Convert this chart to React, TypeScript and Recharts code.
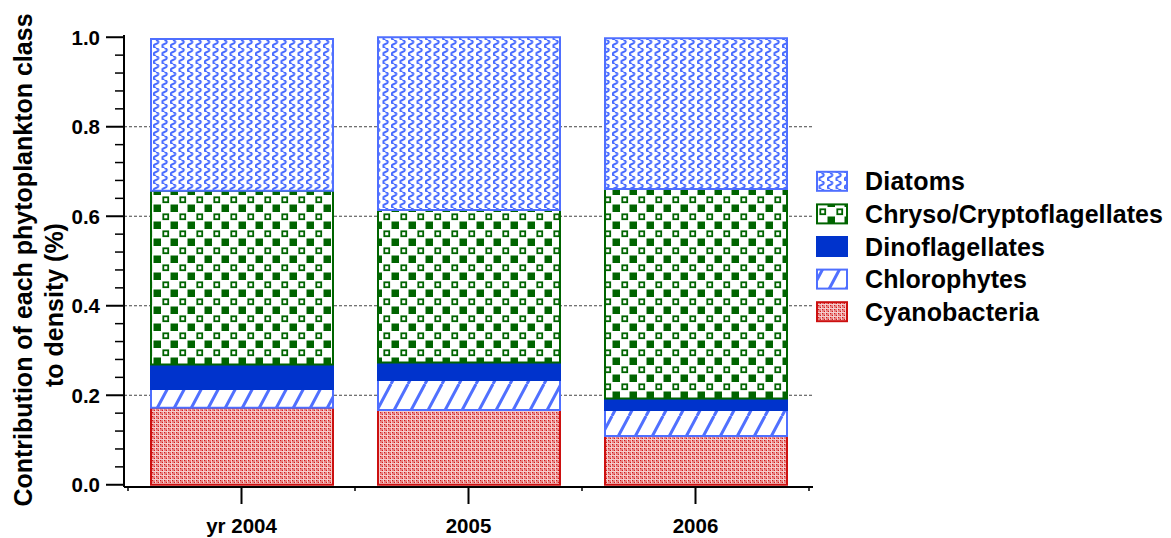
import React from "react"
import { BarChart, Bar, XAxis, YAxis, CartesianGrid, Legend } from "recharts"

// share of each phytoplankton class in total density, per year
const YEARS = ["yr 2004", "2005", "2006"]
const CYANOBACTERIA = [0.172, 0.167, 0.109]
const CHLOROPHYTES = [0.042, 0.067, 0.058]
const DINOFLAGELLATES = [0.055, 0.039, 0.026]
const CHRYSO_CRYPTO = [0.388, 0.341, 0.468]
const DIATOMS = [0.339, 0.386, 0.337]

const GRID_VALUES = [0.2, 0.4, 0.6, 0.8]
// labelled every 0.2, with four minor ticks in between
const Y_TICKS = Array.from({ length: 26 }, (_, i) => (i * 4) / 100)

const FONT = "'Liberation Sans', Arial, Helvetica, sans-serif"

const WIDTH = 1171
const HEIGHT = 538
const PLOT_LEFT = 124
const PLOT_RIGHT = 813
const X_PAD = 4
const BAND_HALF = (PLOT_RIGHT - PLOT_LEFT - 2 * X_PAD) / YEARS.length / 2

interface Series {
  key: string
  name: string
  fill: string
  stroke: string
  values: number[]
  labelWidth: number
}

// stacked from bottom to top
const SERIES: Series[] = [
  { key: "cyano", name: "Cyanobacteria", fill: "url(#pat-cyano)", stroke: "#cc1010", values: CYANOBACTERIA, labelWidth: 174 },
  { key: "chloro", name: "Chlorophytes", fill: "url(#pat-chloro)", stroke: "#4f6fff", values: CHLOROPHYTES, labelWidth: 162 },
  { key: "dino", name: "Dinoflagellates", fill: "#0033cc", stroke: "#0033cc", values: DINOFLAGELLATES, labelWidth: 180 },
  { key: "chryso", name: "Chryso/Cryptoflagellates", fill: "url(#pat-chryso)", stroke: "#006400", values: CHRYSO_CRYPTO, labelWidth: 298 },
  { key: "diatoms", name: "Diatoms", fill: "url(#pat-diatoms)", stroke: "#4f6fff", values: DIATOMS, labelWidth: 100 },
]

const rows = YEARS.map((year, i) => {
  const row: Record<string, string | number> = { year }
  SERIES.forEach((s) => {
    row[s.key] = s.values[i]
  })
  return row
})

function Patterns() {
  return (
    <svg width={0} height={0} style={{ position: "absolute" }}>
      <defs>
        <pattern id="pat-diatoms" patternUnits="userSpaceOnUse" width={8.5} height={8}>
          <rect width={8.5} height={8} fill="#fff" />
          <path d="M3,0 C6.2,1 6.2,3 3,4 C-0.2,5 -0.2,7 3,8" fill="none" stroke="#4468ff" strokeWidth={1.9} />
        </pattern>
        <pattern id="pat-chloro" patternUnits="userSpaceOnUse" width={17} height={32}>
          <rect width={17} height={32} fill="#fff" />
          <path d="M-17,32 L0,0 M0,32 L17,0 M17,32 L34,0" stroke="#5070ff" strokeWidth={3} />
        </pattern>
        <pattern id="pat-chryso" patternUnits="userSpaceOnUse" width={17} height={17}>
          <rect width={17} height={17} fill="#fff" />
          <rect x={0.5} y={0.5} width={7.5} height={7.5} fill="#006400" />
          <rect x={10.3} y={10.3} width={4.9} height={4.9} fill="none" stroke="#006400" strokeWidth={1.8} />
        </pattern>
        <pattern id="pat-cyano" patternUnits="userSpaceOnUse" width={4} height={4}>
          <rect width={4} height={4} fill="#e68080" />
          <rect x={0} y={0} width={1} height={1} fill="#d41818" />
          <rect x={2} y={2} width={1} height={1} fill="#d41818" />
          <path d="M3.5,0 V4 M0,3.5 H4" stroke="#f6cccc" strokeWidth={1} />
        </pattern>
      </defs>
    </svg>
  )
}

function YTick(props: any) {
  const { x, y, payload } = props
  const v = payload.value as number
  const major = Math.abs(v * 5 - Math.round(v * 5)) < 1e-6
  return (
    <g>
      <line x1={x - (major ? 18 : 9)} x2={x} y1={y} y2={y} stroke="#000" strokeWidth={major ? 2 : 1.5} />
      {major && (
        <text
          x={x - 24}
          y={y}
          textAnchor="end"
          dominantBaseline="central"
          fontFamily={FONT}
          fontWeight={700}
          fontSize={20.5}
          fill="#000"
        >
          {v.toFixed(1)}
        </text>
      )}
    </g>
  )
}

function XTick(props: any) {
  const { x, y, payload, index } = props
  return (
    <g>
      <line x1={x} x2={x} y1={y} y2={y + 17} stroke="#000" strokeWidth={2} />
      <line x1={x - BAND_HALF} x2={x - BAND_HALF} y1={y} y2={y + 4} stroke="#000" strokeWidth={1.5} />
      {index === YEARS.length - 1 && (
        <line x1={x + BAND_HALF} x2={x + BAND_HALF} y1={y} y2={y + 4} stroke="#000" strokeWidth={1.5} />
      )}
      <text x={x} y={y + 46} textAnchor="middle" fontFamily={FONT} fontWeight={700} fontSize={20.5} fill="#000">
        {payload.value}
      </text>
    </g>
  )
}

function YTitle() {
  return (
    <g fontFamily={FONT} fontWeight={700} fontSize={25} fill="#000">
      <text transform="translate(23,260) rotate(-90)" textAnchor="middle" dominantBaseline="central">
        Contribution of each phytoplankton class
      </text>
      <text transform="translate(54,305) rotate(-90)" textAnchor="middle" dominantBaseline="central">
        to density (%)
      </text>
    </g>
  )
}

const ROW_H = 32.6

function LegendBox() {
  const items = [...SERIES].reverse()
  return (
    <svg width={360} height={items.length * ROW_H}>
      {items.map((s, i) => {
        const cy = i * ROW_H + ROW_H / 2
        return (
          <g key={s.key}>
            <rect x={7} y={cy - 9.5} width={30} height={19} fill={s.fill} stroke={s.stroke} strokeWidth={2} />
            <text
              x={55}
              y={cy}
              dominantBaseline="central"
              fontFamily={FONT}
              fontWeight={700}
              fontSize={25}
              fill="#000"
              textLength={s.labelWidth}
            >
              {s.name}
            </text>
          </g>
        )
      })}
    </svg>
  )
}

export default function App() {
  return (
    <div style={{ position: "absolute", left: 0, top: 0, width: WIDTH, height: HEIGHT, background: "#fff" }}>
      <Patterns />
      <BarChart
        width={WIDTH}
        height={HEIGHT}
        data={rows}
        margin={{ top: 35, right: WIDTH - PLOT_RIGHT, bottom: 0, left: 0 }}
      >
        <CartesianGrid
          vertical={false}
          horizontalValues={GRID_VALUES}
          stroke="#444"
          strokeDasharray="3 2"
          strokeWidth={1}
        />
        <XAxis
          dataKey="year"
          height={51}
          padding={{ left: X_PAD, right: X_PAD }}
          axisLine={{ stroke: "#000", strokeWidth: 2 }}
          tickLine={false}
          tickSize={0}
          tickMargin={0}
          tick={<XTick />}
          interval={0}
        />
        <XAxis
          xAxisId="top"
          dataKey="year"
          orientation="top"
          height={0}
          padding={{ left: X_PAD, right: X_PAD }}
          axisLine={{ stroke: "#000", strokeWidth: 2 }}
          tickLine={false}
          tick={false}
        />
        <YAxis
          width={PLOT_LEFT}
          domain={[-0.005, 1.005]}
          ticks={Y_TICKS}
          interval={0}
          axisLine={{ stroke: "#000", strokeWidth: 2 }}
          tickLine={false}
          tickSize={0}
          tickMargin={0}
          tick={<YTick />}
          label={{ content: () => <YTitle /> }}
        />
        <YAxis
          yAxisId="right"
          orientation="right"
          width={0}
          domain={[-0.005, 1.005]}
          axisLine={{ stroke: "#000", strokeWidth: 2 }}
          tickLine={false}
          tick={false}
        />
        <Legend
          layout="vertical"
          align="center"
          verticalAlign="middle"
          wrapperStyle={{ left: 810, top: 165, width: 360 }}
          content={() => <LegendBox />}
        />
        {SERIES.map((s) => (
          <Bar
            key={s.key}
            dataKey={s.key}
            name={s.name}
            stackId="share"
            barSize={182}
            fill={s.fill}
            stroke={s.stroke}
            strokeWidth={2}
            isAnimationActive={false}
          />
        ))}
      </BarChart>
    </div>
  )
}
